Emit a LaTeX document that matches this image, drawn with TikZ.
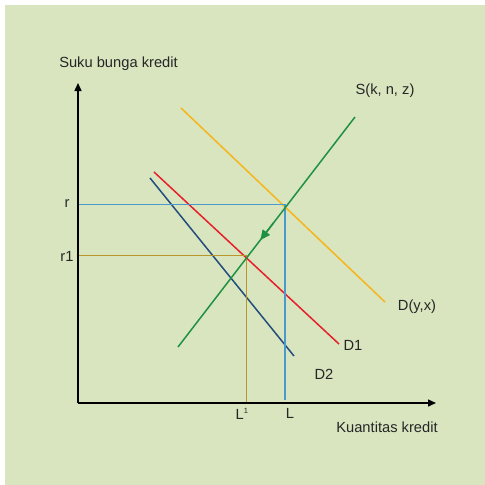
\documentclass[tikz,border=0pt]{standalone}
\usepackage{fontspec}
\setmainfont{Liberation Sans}
\usetikzlibrary{arrows.meta,calc}
\definecolor{bg}{HTML}{D8E5BF}
\definecolor{cyel}{HTML}{F7B51C}
\definecolor{cgrn}{HTML}{1F9142}
\definecolor{cred}{HTML}{E5202B}
\definecolor{cnavy}{HTML}{234E7C}
\definecolor{cblue}{HTML}{4A9AD0}
\definecolor{coli}{HTML}{B8962C}
\begin{document}
\begin{tikzpicture}[x=1pt,y=-1pt,
  lbl/.style={font=\fontsize{14.7}{17}\selectfont, text=black!85, inner sep=0pt},
  curve/.style={line width=1.5pt},
  axis/.style={line width=1.5pt, black, -{Triangle[length=8pt,width=7pt]}}]
\useasboundingbox (0,0) rectangle (485,485);
\fill[white] (0,0) rectangle (485,485);
\fill[bg] (5,5) rectangle (485,485);
% coordinates
\coordinate (O) at (78,403);
\coordinate (Ytop) at (78,83);
\coordinate (Xend) at (436,403);
\coordinate (Ya) at (181,108);
\coordinate (Yb) at (385,302);
\coordinate (Sa) at (178,347);
\coordinate (Sb) at (355,117);
\coordinate (Ra) at (154,172);
\coordinate (Rb) at (339,344);
\coordinate (Na) at (150,178);
\coordinate (Nb) at (294,356);
\coordinate (rL) at (78,204.5);
\coordinate (rE) at (285,204.5);
\coordinate (rB) at (285,400);
\coordinate (r1L) at (78,255.7);
\coordinate (r1E) at (246.7,255.7);
\coordinate (r1B) at (246.7,403);
% lines
\draw[curve, cyel] (Ya) -- (Yb);
\draw[curve, cred] (Ra) -- (Rb);
\draw[curve, cnavy] (Na) -- (Nb);
\draw[curve, cblue] (rL) -- (rE) -- (rB);
\draw[curve, coli] (r1L) -- (r1E) -- (r1B);
\draw[curve, cgrn] (Sa) -- (Sb);
\draw[curve, cgrn, -{Triangle[length=10pt,width=9pt]}] ($(Sb)!0.46!(Sa)$) -- ($(Sb)!0.535!(Sa)$);
% axes
\draw[axis] (O) -- (Ytop);
\draw[axis] (O) -- (Xend);
% labels
\node[lbl] (ylab) at (118.5,64) {Suku bunga kredit};
\node[lbl] (slab) at (385,91) {S(k, n, z)};
\node[lbl] (rlab) at (67,204) {r};
\node[lbl] (r1lab) at (67,256) {r1};
\node[lbl] (dlab) at (417,307) {D(y,x)};
\node[lbl] (d1lab) at (353,345) {D1};
\node[lbl] (d2lab) at (324,374) {D2};
\node[lbl] (l1lab) at (242,414) {L\textsuperscript{\fontsize{7.5}{8}\selectfont 1}};
\node[lbl] (llab) at (290,413) {L};
\node[lbl] (xlab) at (387,427) {Kuantitas kredit};
\end{tikzpicture}
\end{document}
